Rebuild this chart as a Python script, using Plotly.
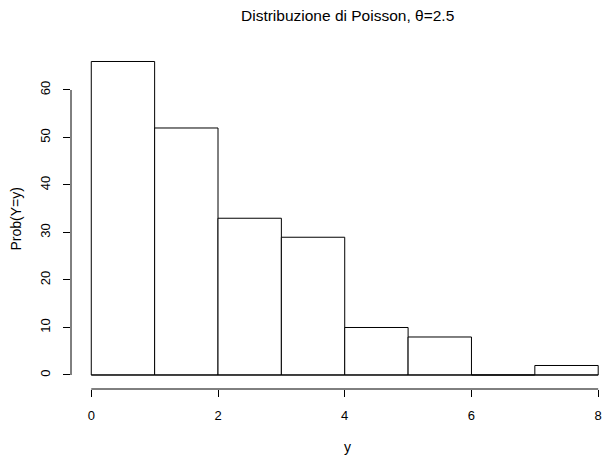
import plotly.graph_objects as go

bin_left = [0, 1, 2, 3, 4, 5, 6, 7]
counts = [66, 52, 33, 29, 10, 8, 0, 2]
x_ticks = [0, 2, 4, 6, 8]
y_ticks = [0, 10, 20, 30, 40, 50, 60]
title = "Distribuzione di Poisson, θ=2.5"
x_label = "y"
y_label = "Prob(Y=y)"

W, H = 607, 455
L, R, T, B = 71, 0, 50, 66
FONT = "Liberation Sans, Arial, sans-serif"

fig = go.Figure()
fig.add_trace(go.Bar(
    x=[b + 0.5 for b in bin_left], y=counts, width=1,
    marker=dict(color="white", line=dict(color="black", width=1)),
    hoverinfo="skip",
))

fig.update_layout(
    width=W, height=H, margin=dict(l=L, r=R, t=T, b=B),
    plot_bgcolor="white", paper_bgcolor="white", showlegend=False,
    font=dict(family=FONT, size=12, color="black"),
    xaxis=dict(range=[-0.32, 8.139], tickvals=x_ticks, ticks="outside", ticklen=7,
               tickcolor="black", showgrid=False, zeroline=False, showline=False,
               tickfont=dict(size=13), ticklabelstandoff=7),
    yaxis=dict(range=[-2.95, 68.42], tickvals=y_ticks, ticks="outside", ticklen=7,
               tickcolor="black", showgrid=False, zeroline=False, showline=False,
               tickangle=-90, tickfont=dict(size=13), ticklabelstandoff=8),
    annotations=[
        dict(text=title, xref="paper", yref="paper", x=0.515, y=1, yshift=35,
             showarrow=False, font=dict(size=15.5), xanchor="center", yanchor="middle"),
        dict(text=x_label, xref="paper", yref="paper", x=0.515, y=0, yshift=-58,
             showarrow=False, font=dict(size=14), xanchor="center", yanchor="middle"),
        dict(text=y_label, xref="paper", yref="paper", x=0, y=0.5, xshift=-56,
             showarrow=False, font=dict(size=14), textangle=-90,
             xanchor="center", yanchor="middle"),
    ],
    shapes=[
        dict(type="line", xref="x", yref="paper", x0=x_ticks[0], x1=x_ticks[-1], y0=0, y1=0,
             line=dict(color="black", width=1)),
        dict(type="line", xref="paper", yref="y", x0=0, x1=0, y0=y_ticks[0], y1=y_ticks[-1],
             line=dict(color="black", width=1)),
        dict(type="line", xref="x", yref="y", x0=bin_left[0], x1=bin_left[-1] + 1, y0=0, y1=0,
             line=dict(color="black", width=1)),
    ],
)

fig.write_html("out.html", config={"displayModeBar": False},
               post_script="document.body.style.margin='0';")
